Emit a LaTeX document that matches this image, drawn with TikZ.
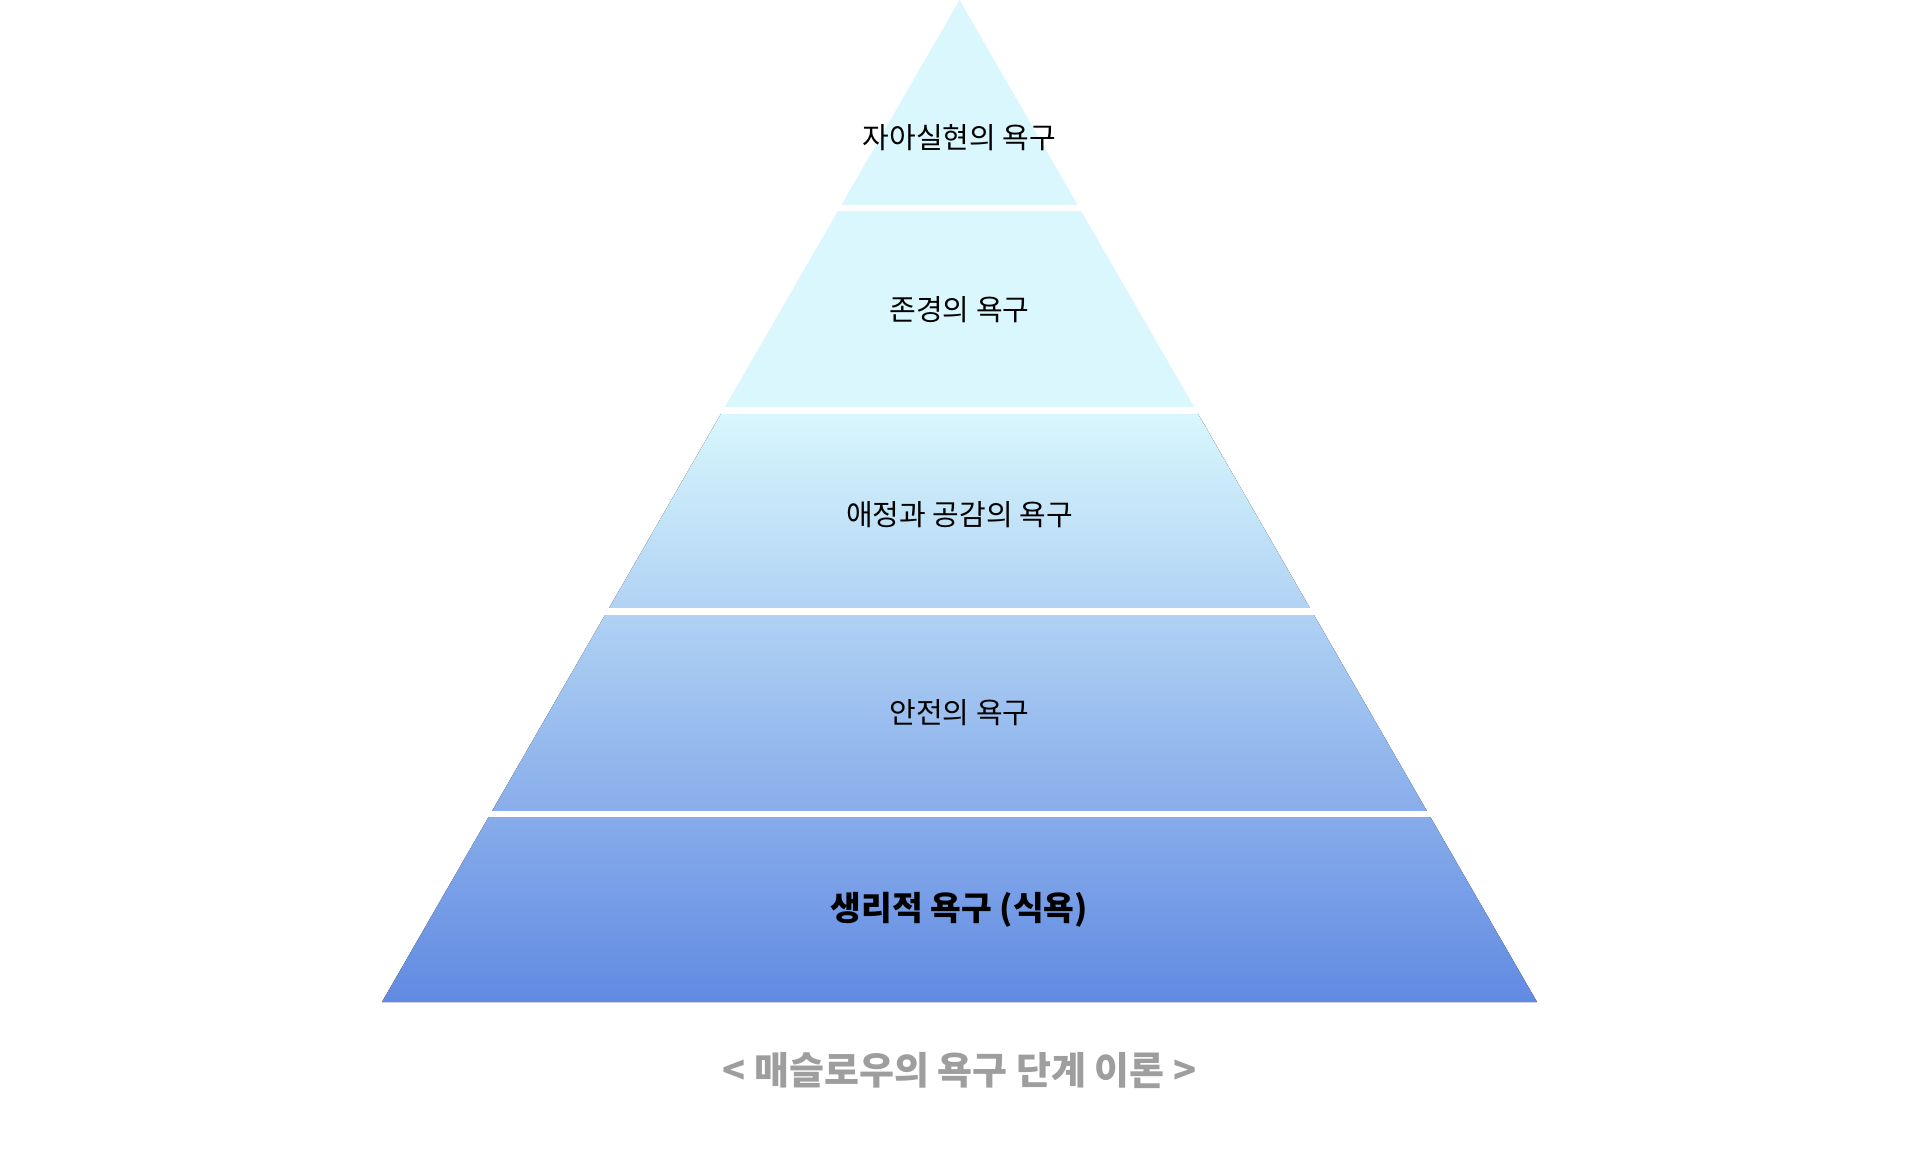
\documentclass[tikz,border=0pt]{standalone}
\usepackage{fontspec}
\setmainfont{Noto Sans CJK KR}
\usepackage{tikz}
\usetikzlibrary{calc}
\definecolor{tiertop}{HTML}{D9F7FD}
\definecolor{tierbot}{HTML}{618AE2}
\definecolor{capgray}{HTML}{9E9E9E}

\begin{document}
\begin{tikzpicture}[x=1pt,y=-1pt]
\tikzset{level/.style = {font=\fontsize{29}{33}\selectfont, text=black}}
\tikzset{base/.style = {font=\bfseries\fontsize{33.4}{38}\selectfont, text=black}}
\tikzset{gap/.style = {fill=white}}
\useasboundingbox (0,0) rectangle (1920,1150);
% pyramid
\coordinate (apex) at (959.5,0);
\coordinate (bl) at (382,1002);
\coordinate (br) at (1537,1002);
\fill[tiertop] (apex) -- ($(apex)!0.412!(bl)$) -- ($(apex)!0.412!(br)$) -- cycle;
\fill[top color=tiertop, bottom color=tierbot]
  ($(apex)!0.410!(bl)$) -- (bl) -- (br) -- ($(apex)!0.410!(br)$) -- cycle;
% gaps
\fill[gap] (300,204.6) rectangle (1650,210.7);
\fill[gap] (300,406.7) rectangle (1650,414);
\fill[gap] (300,607.5) rectangle (1650,614.9);
\fill[gap] (300,810.9) rectangle (1650,817);
% labels
\node[level] (selfact) at (959.5,137.2) {자아실현의 욕구};
\node[level] (esteem)  at (959.5,310) {존경의 욕구};
\node[level] (love)    at (959.5,514.5) {애정과 공감의 욕구};
\node[level] (safety)  at (959.5,713) {안전의 욕구};
\node[base]  (physio)  at (959.5,910.2) {생리적 욕구 (식욕)};
\node[font=\bfseries\fontsize{38}{43}\selectfont, text=capgray] (caption) at (959.5,1070.5) {< 매슬로우의 욕구 단계 이론 >};
\end{tikzpicture}
\end{document}
